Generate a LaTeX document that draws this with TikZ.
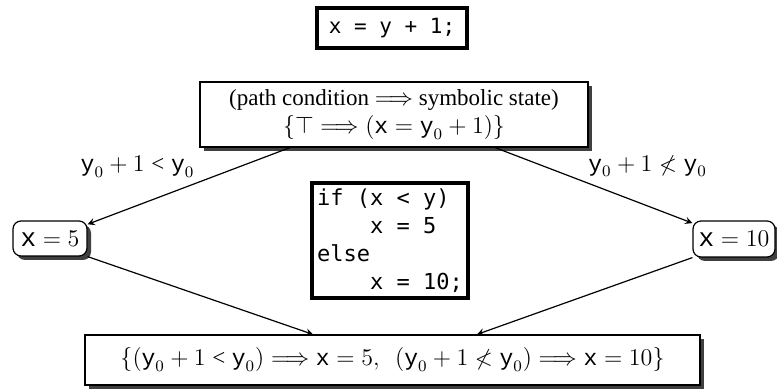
\documentclass[tikz,border=0pt]{standalone}
\usepackage{amssymb}
\usepackage{fontspec}
\setmainfont{Liberation Serif}
\setmonofont{DejaVu Sans Mono}
\newfontfamily\progvar{Liberation Mono}
% Times digits and signs in math
\DeclareSymbolFont{trm}{TU}{\rmdefault}{m}{n}
\DeclareMathSymbol{0}{\mathalpha}{trm}{`0}
\DeclareMathSymbol{1}{\mathalpha}{trm}{`1}
\DeclareMathSymbol{5}{\mathalpha}{trm}{`5}
\DeclareMathSymbol{+}{\mathbin}{trm}{`+}
\DeclareMathSymbol{=}{\mathrel}{trm}{`=}
\DeclareMathSymbol{<}{\mathrel}{trm}{`<}
\DeclareMathSymbol{(}{\mathopen}{trm}{`(}
\DeclareMathSymbol{)}{\mathclose}{trm}{`)}
\newcommand{\vx}{\mbox{\progvar x}}
\newcommand{\vy}{\mbox{\progvar y}}
\usetikzlibrary{shadows}
\tikzset{
  every node/.style={font=\fontsize{11.5}{14}\selectfont},
  codebox/.style={draw, line width=2pt, fill=white, inner sep=0pt, font=\fontsize{11}{14}\selectfont\ttfamily},
  statebox/.style={draw, semithick, fill=white, inner sep=0pt, drop shadow={shadow xshift=2pt, shadow yshift=-2pt, opacity=1, fill=black!75}},
  valbox/.style={statebox, rounded corners=4pt, font=\fontsize{13}{15}\selectfont},
  edge/.style={->, >=stealth, semithick}
}
\begin{document}
\begin{tikzpicture}[x=0.5pt, y=-0.5pt]
  \useasboundingbox (0,0) rectangle (777,389);
  % draw the assignment on top
  \node[codebox, minimum width=75pt, minimum height=20pt, font=\fontsize{10.5}{13}\selectfont\ttfamily] (assign) at (392,28) {x = y + 1;};
  % draw the symbolic state after the assignment
  \node[statebox, align=center, minimum width=194pt, minimum height=32.5pt] (state) at (394,114.5)
    {(path condition $\Longrightarrow$ symbolic state)\\
     $\{\top \Longrightarrow (\vx = \vy_0 + 1)\}$};
  % draw the conditional in the middle
  \node[codebox, align=left, minimum width=78pt, minimum height=57.5pt] (cond) at (390,240.5)
    {if (x < y)\\\ \ \ \ x = 5\\else\\\ \ \ \ x = 10;};
  % draw the two branch values
  \node[valbox, minimum width=37pt, minimum height=17.5pt] (five) at (50,238.5) {$\vx = 5$};
  \node[valbox, minimum width=41pt, minimum height=18pt] (ten) at (734,239) {$\vx = 10$};
  % draw the merged state at the bottom
  \node[statebox, minimum width=307.5pt, minimum height=25pt] (merge) at (392.5,360)
    {$\{(\vy_0 + 1 < \vy_0) \Longrightarrow \vx = 5,\ \ (\vy_0 + 1 \nless \vy_0) \Longrightarrow \vx = 10\}$};
  % draw the branches with their conditions
  \draw[edge] ([xshift=-52pt]state.south) -- (five)
    node[pos=0.45, above left, inner sep=2pt] {$\vy_0 + 1 < \vy_0$};
  \draw[edge] ([xshift=50.5pt]state.south) -- (ten)
    node[pos=0.45, above right, inner sep=2pt] {$\vy_0 + 1 \nless \vy_0$};
  % draw the joins
  \draw[edge] (five.south east) -- ([xshift=-39.75pt]merge.north);
  \draw[edge] (ten.south west) -- ([xshift=42.25pt]merge.north);
\end{tikzpicture}
\end{document}
